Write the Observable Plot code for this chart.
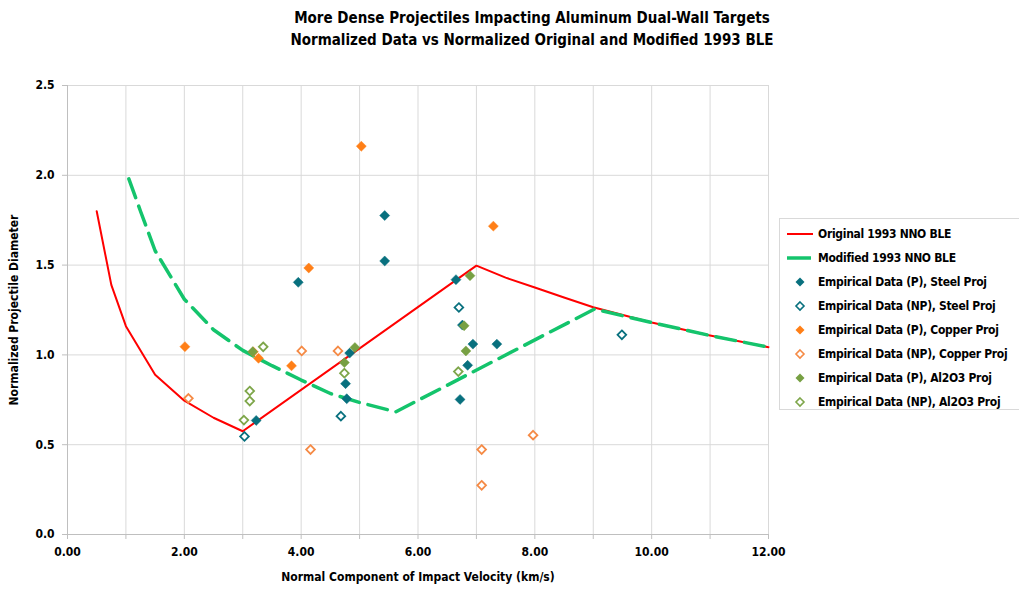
<!DOCTYPE html>
<html>
<head>
<meta charset="utf-8">
<script src="https://cdn.jsdelivr.net/npm/d3@7"></script>
<script src="https://cdn.jsdelivr.net/npm/@observablehq/plot@0.6"></script>
<style>
  html, body { margin: 0; padding: 0; background: #fff; overflow: hidden; }
  body { width: 1019px; height: 593px; position: relative;
         font-family: "Liberation Sans Narrow", "DejaVu Sans Condensed", "Open Sans", sans-serif; }
  #title { position: absolute; left: 0; top: 0; width: 1064px; height: 60px; text-align: center;
           font-weight: bold; font-size: 15px; line-height: 22px; padding-top: 7px; box-sizing: border-box; color: #000; }
  #chart { position: absolute; left: 0; top: 60px; }
  #legend { position: absolute; left: 779px; top: 218px; width: 260px; height: 192px;
            border: 1px solid #d9d9d9; box-sizing: border-box; padding-top: 3px; background: #fff; }
  .li { height: 24px; display: flex; align-items: center; font-weight: bold; font-size: 12px; letter-spacing: -0.3px; color: #000; white-space: nowrap; }
  .li svg { width: 38px; height: 24px; flex: none; }
</style>
</head>
<body>
<div id="title">More Dense Projectiles Impacting Aluminum Dual-Wall Targets<br>Normalized Data vs Normalized Original and Modified 1993 BLE</div>
<div id="chart"></div>
<div id="legend"></div>
<script>
// ---- Data ----
const xTicks = [0, 1, 2, 3, 4, 5, 6, 7, 8, 9, 10, 11, 12];
const xTickLabels = ["0.00", "", "2.00", "", "4.00", "", "6.00", "", "8.00", "", "10.00", "", "12.00"];
const yTicks = [0, 0.5, 1.0, 1.5, 2.0, 2.5];
const yTickLabels = ["0.0", "0.5", "1.0", "1.5", "2.0", "2.5"];

// Original 1993 NNO BLE
const origX = [0.5, 0.75, 1.0, 1.5, 2.0, 2.5, 3.0, 7.0, 7.5, 8.0, 8.5, 9.0, 10.0, 11.0, 12.0];
const origY = [1.80, 1.39, 1.16, 0.89, 0.745, 0.65, 0.575, 1.497, 1.43, 1.375, 1.32, 1.265, 1.18, 1.108, 1.043];

// Modified 1993 NNO BLE
const modX = [1.05, 1.25, 1.5, 2.0, 2.5, 3.0, 3.5, 4.0, 4.5, 5.0, 5.62, 9.02, 10.0, 11.0, 12.0];
const modY = [1.98, 1.80, 1.58, 1.31, 1.14, 1.025, 0.94, 0.86, 0.785, 0.735, 0.683, 1.255, 1.18, 1.108, 1.043];

// Empirical data
const steelPX = [3.95, 5.43, 5.43, 6.65, 6.94, 7.35, 6.85, 6.72, 6.76, 4.83, 4.76, 4.78, 3.23];
const steelPY = [1.404, 1.776, 1.523, 1.419, 1.06, 1.06, 0.942, 0.752, 1.166, 1.01, 0.84, 0.756, 0.635];
const steelNPX = [3.03, 4.68, 6.70, 9.49];
const steelNPY = [0.546, 0.659, 1.264, 1.112];
const copperPX = [2.01, 3.18, 3.27, 3.835, 4.13, 5.03, 7.29];
const copperPY = [1.046, 1.017, 0.981, 0.939, 1.484, 2.162, 1.717];
const copperNPX = [2.07, 4.01, 4.63, 4.16, 7.09, 7.09, 7.97];
const copperNPY = [0.758, 1.022, 1.022, 0.473, 0.473, 0.274, 0.553];
const alPX = [3.17, 4.92, 4.74, 6.89, 6.79, 6.82];
const alPY = [1.018, 1.041, 0.957, 1.441, 1.162, 1.022];
const alNPX = [3.35, 3.12, 3.12, 3.02, 4.74, 6.69];
const alNPY = [1.045, 0.799, 0.743, 0.637, 0.898, 0.907];

const seriesNames = [
  "Original 1993 NNO BLE", "Modified 1993 NNO BLE",
  "Empirical Data (P), Steel Proj", "Empirical Data (NP), Steel Proj",
  "Empirical Data (P), Copper Proj", "Empirical Data (NP), Copper Proj",
  "Empirical Data (P), Al2O3 Proj", "Empirical Data (NP), Al2O3 Proj"
];

// ---- Styles ----
const RED = "#ff0000", GREEN = "#14c46c";
const STEEL = "#08707e", COPPER = "#ff7f17", COPPER_NP = "#f58a45", AL = "#77a043", AL_NP = "#7ea64a";
const FONT = '"Liberation Sans Narrow", "DejaVu Sans Condensed", "Open Sans", sans-serif';

const zip = (xs, ys) => xs.map((x, i) => ({x, y: ys[i]}));
const orig = zip(origX, origY), mod = zip(modX, modY);
const pts = [
  {d: zip(steelPX, steelPY), c: STEEL, filled: true},
  {d: zip(steelNPX, steelNPY), c: STEEL, filled: false},
  {d: zip(copperPX, copperPY), c: COPPER, filled: true},
  {d: zip(copperNPX, copperNPY), c: COPPER_NP, filled: false},
  {d: zip(alPX, alPY), c: AL, filled: true},
  {d: zip(alNPX, alNPY), c: AL_NP, filled: false}
];

const dotMarks = pts.map(p => p.filled
  ? Plot.dot(p.d, {x: "x", y: "y", symbol: "diamond2", r: 4.5, fill: p.c, stroke: p.c, strokeWidth: 0.5})
  : Plot.dot(p.d, {x: "x", y: "y", symbol: "diamond2", r: 3.9, fill: "white", stroke: p.c, strokeWidth: 1.8}));

const chart = Plot.plot({
  width: 1019,
  height: 533,
  marginTop: 25,
  marginBottom: 59,
  marginLeft: 67,
  marginRight: 251,
  style: {fontFamily: FONT, fontSize: "12px", fontWeight: "bold", color: "#000", background: "white"},
  x: {domain: [0, 12]},
  y: {domain: [0, 2.5]},
  marks: [
    Plot.gridX(xTicks, {stroke: "#d9d9d9", strokeOpacity: 1}),
    Plot.gridY(yTicks, {stroke: "#d9d9d9", strokeOpacity: 1}),
    Plot.axisX(xTicks, {tickFormat: (d, i) => xTickLabels[i], tickSize: 5, tickPadding: 8, stroke: "#bfbfbf",
      label: "Normal Component of Impact Velocity (km/s)", labelAnchor: "center", labelArrow: "none", labelOffset: 46, fontWeight: "bold"}),
    Plot.axisY(yTicks, {tickFormat: (d, i) => yTickLabels[i], tickSize: 5, tickPadding: 8, stroke: "#bfbfbf",
      label: "Normalized Projectile Diameter", labelAnchor: "center", labelArrow: "none", labelOffset: 58, fontWeight: "bold"}),
    Plot.ruleX([0], {stroke: "#bfbfbf"}),
    Plot.ruleY([0], {stroke: "#bfbfbf"}),
    Plot.line(orig, {x: "x", y: "y", stroke: RED, strokeWidth: 2}),
    Plot.line(mod, {x: "x", y: "y", stroke: GREEN, strokeWidth: 3.5, strokeDasharray: "20,9"}),
    ...dotMarks
  ]
});
document.getElementById("chart").appendChild(chart);

// ---- Legend ----
const legend = document.getElementById("legend");
const legendSwatches = [
  `<line x1="7" x2="33" y1="12" y2="12" stroke="${RED}" stroke-width="2"/>`,
  `<line x1="7" x2="31" y1="12" y2="12" stroke="${GREEN}" stroke-width="3.5"/>`,
  ...pts.map(p => p.filled
    ? `<path d="M20,7.5L24.5,12L20,16.5L15.5,12Z" fill="${p.c}"/>`
    : `<path d="M20,8L24,12L20,16L16,12Z" fill="white" stroke="${p.c}" stroke-width="1.6"/>`)
];
seriesNames.forEach((name, i) => {
  const row = document.createElement("div");
  row.className = "li";
  row.innerHTML = `<svg viewBox="0 0 38 24">${legendSwatches[i]}</svg><span>${name}</span>`;
  legend.appendChild(row);
});
</script>
</body>
</html>
